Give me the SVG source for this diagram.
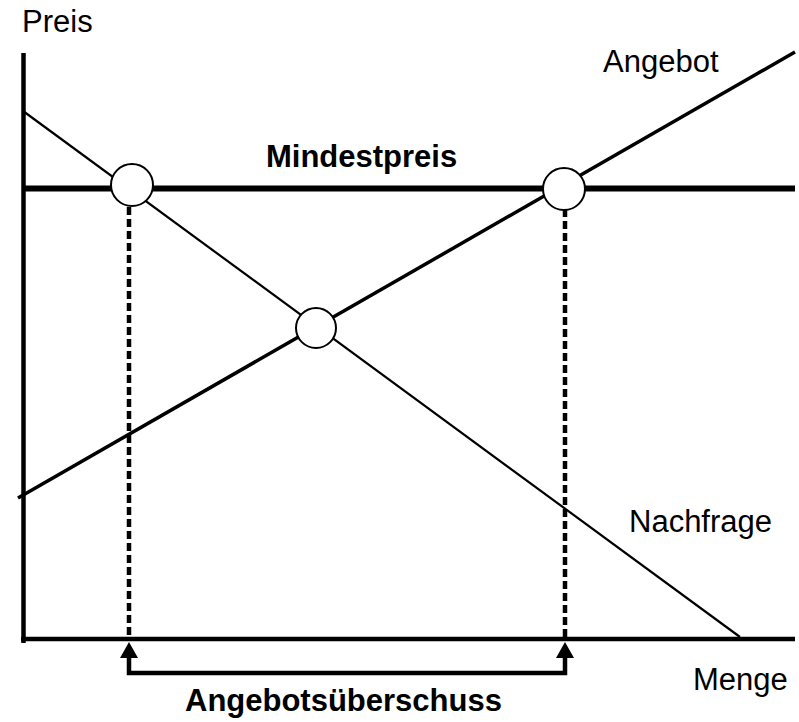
<svg xmlns="http://www.w3.org/2000/svg" width="799" height="722" viewBox="0 0 799 722">
<style>
.t{font-family:"Liberation Sans",Arial,sans-serif;font-size:31px;fill:#000}
.b{font-weight:bold}
.ax{stroke:#000;stroke-width:4.5;fill:none}
.dash{stroke:#000;stroke-width:4.5;stroke-dasharray:8 4;fill:none}
.node{fill:#fff;stroke:#000;stroke-width:2}
.head{fill:#000}
</style>
<rect width="799" height="722" fill="#fff"/>
<g id="connectors">
<line class="ax" x1="23.5" y1="53" x2="23.5" y2="643"/>
<line class="ax" x1="21" y1="639" x2="795" y2="639"/>
<line x1="23" y1="188.5" x2="795" y2="188.5" stroke="#000" stroke-width="6"/>
<line x1="23" y1="111" x2="740" y2="637" stroke="#000" stroke-width="2.2"/>
<line x1="18" y1="498" x2="795" y2="52" stroke="#000" stroke-width="3.5"/>
<line class="dash" x1="129" y1="207" x2="129" y2="637"/>
<line class="dash" x1="565" y1="209" x2="565" y2="637"/>
<path d="M129,656 L129,673 L565,673 L565,656" class="ax"/>
<polygon class="head" points="129,642 120,658 138,658"/>
<polygon class="head" points="565,642 556,658 574,658"/>
</g>
<g id="node-left"><circle class="node" cx="132" cy="185" r="21"/></g>
<g id="node-right"><circle class="node" cx="564" cy="189" r="21"/></g>
<g id="node-eq"><circle class="node" cx="316" cy="328" r="20"/></g>
<g id="labels">
<text class="t" x="22" y="32">Preis</text>
<text class="t" x="603" y="72">Angebot</text>
<text class="t b" x="266" y="167">Mindestpreis</text>
<text class="t" x="629" y="532">Nachfrage</text>
<text class="t" x="693" y="690">Menge</text>
<text class="t b" x="185" y="711">Angebotsüberschuss</text>
</g>
</svg>
